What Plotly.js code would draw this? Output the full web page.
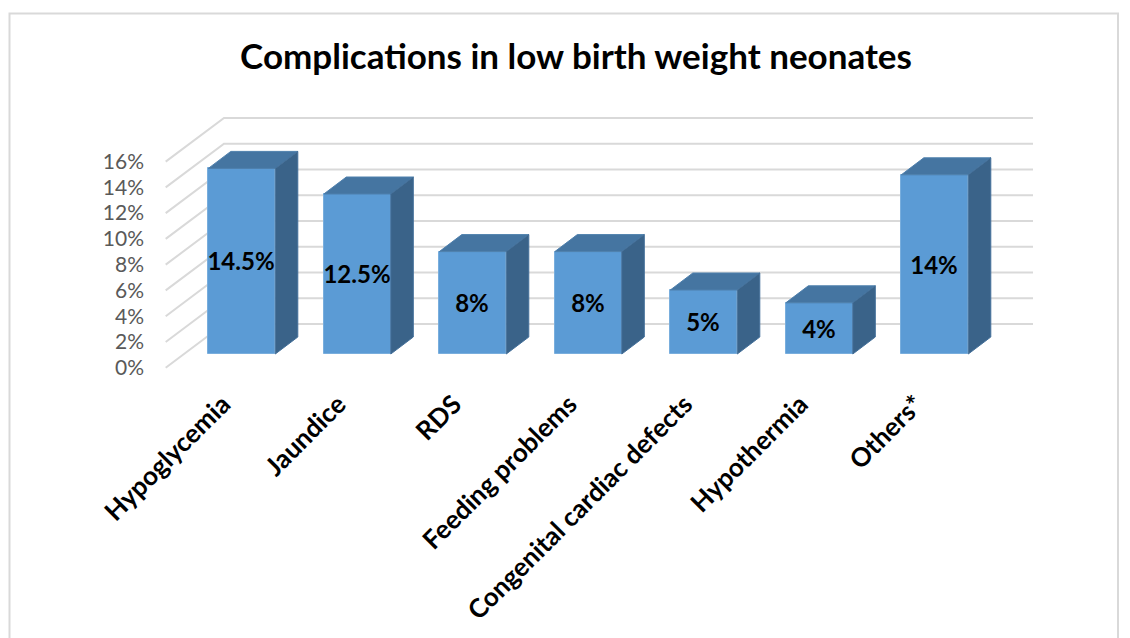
<!DOCTYPE html>
<html>
<head>
<meta charset="utf-8">
<script src="https://cdn.plot.ly/plotly-3.0.1.min.js"></script>
<style>html,body{margin:0;padding:0;background:#fff}#chart{width:1130px;height:638px}</style>
</head>
<body>
<div id="chart"></div>
<script>
const categories = ["Hypoglycemia","Jaundice","RDS","Feeding problems","Congenital cardiac defects","Hypothermia","Others*"];
const values = [14.5,12.5,8,8,5,4,14];
const valueLabels = ["14.5%","12.5%","8%","8%","5%","4%","14%"];
const yTicks = [0,2,4,6,8,10,12,14,16];
const yTickLabels = ["0%","2%","4%","6%","8%","10%","12%","14%","16%"];

// pixel geometry of the plot frame and of the pseudo-3D projection
const W=1130,H=638, plotL=160,plotR=1040,plotT=100,plotB=370;
const cx0=241.8, step=115.5;            // px of the first bar centre, px per category
const wallScale=12.88, barScale=12.8;   // px per percentage point
const wallZero=367.7, barZero=354;      // px of 0% at the front of the wall and at the bar base
const px2x=p=>(p-cx0)/step;
const barW=67/step, depthX=22.5/step, depthY=17/barScale;
const wallBackDy=(wallZero-324)/wallScale;
const wL=px2x(165.7), wM=px2x(224), wR=px2x(1033);

// grid
const gx=[],gy=[];
yTicks.forEach(t=>{gx.push(wL,wM,wR,null);gy.push(t,t+wallBackDy,t+wallBackDy,null);});

// bar faces
const topX=[],topY=[],sideX=[],sideY=[];
values.forEach((v,i)=>{
  const a=i-barW/2,b=i+barW/2;
  topX.push(a,a+depthX,b+depthX,b,a,null);
  topY.push(v,v+depthY,v+depthY,v,v,null);
  sideX.push(b,b+depthX,b+depthX,b,b,null);
  sideY.push(0,depthY,v+depthY,v,0,null);
});
const idx=categories.map((_,i)=>i);
const labelShift=-19/step;

const traces=[
 {type:'scatter',mode:'lines',x:gx,y:gy,xaxis:'x',yaxis:'y',line:{color:'#d9d9d9',width:2},hoverinfo:'skip',connectgaps:false,showlegend:false},
 {type:'bar',x:idx,y:values,xaxis:'x',yaxis:'y2',width:barW,marker:{color:'#5b9bd5',line:{color:'#79aedd',width:1}},
  text:valueLabels,textposition:'inside',insidetextanchor:'middle',constraintext:'none',textangle:0,
  insidetextfont:{family:'Lato, sans-serif',size:24,color:'#000',weight:700},showlegend:false,hoverinfo:'x+y'},
 {type:'scatter',mode:'lines',x:topX,y:topY,xaxis:'x',yaxis:'y2',fill:'toself',fillcolor:'#4575a1',line:{color:'#4f80ad',width:1},hoverinfo:'skip',showlegend:false},
 {type:'scatter',mode:'lines',x:sideX,y:sideY,xaxis:'x',yaxis:'y2',fill:'toself',fillcolor:'#3a6389',line:{color:'#44709a',width:1},hoverinfo:'skip',showlegend:false}
];

const layout={
 width:W,height:H,autosize:false,
 margin:{l:plotL,r:W-plotR,t:plotT,b:H-plotB,pad:0},
 paper_bgcolor:'#fff',plot_bgcolor:'rgba(0,0,0,0)',
 showlegend:false,
 title:{text:'Complications in low birth weight neonates',xref:'container',yref:'container',x:576/W,xanchor:'center',y:1-57/H,yanchor:'middle',
   font:{family:'Lato, sans-serif',size:35,color:'#000',weight:700}},
 xaxis:{type:'linear',range:[px2x(plotL),px2x(plotR)],tickmode:'array',tickvals:idx.map(i=>i+labelShift),ticktext:categories,tickangle:-45,
   showgrid:false,zeroline:false,showline:false,ticks:'',ticklabelstandoff:13,fixedrange:true,
   tickfont:{family:'Lato, sans-serif',size:26,color:'#000',weight:700}},
 yaxis:{range:[(wallZero-plotB)/wallScale,(wallZero-plotT)/wallScale],tickmode:'array',tickvals:yTicks,ticktext:yTickLabels,
   showgrid:false,zeroline:false,showline:false,ticks:'',ticklabelstandoff:15,fixedrange:true,
   tickfont:{family:'Lato, sans-serif',size:21,color:'#595959'}},
 yaxis2:{overlaying:'y',side:'left',range:[(barZero-plotB)/barScale,(barZero-plotT)/barScale],visible:false,fixedrange:true},
 bargap:0,
 shapes:[
  {type:'path',xref:'paper',yref:'paper',
   path:'M '+((9.5-plotL)/(plotR-plotL))+' '+((plotB-H-5)/(plotB-plotT))+' L '+((9.5-plotL)/(plotR-plotL))+' '+((plotB-13.5)/(plotB-plotT))+' L '+((1118-plotL)/(plotR-plotL))+' '+((plotB-13.5)/(plotB-plotT))+' L '+((1118-plotL)/(plotR-plotL))+' '+((plotB-H-5)/(plotB-plotT)),
   line:{color:'#d9d9d9',width:2},layer:'below'}
 ]
};
Plotly.newPlot('chart',traces,layout,{displayModeBar:false,responsive:false});
</script>
</body>
</html>
